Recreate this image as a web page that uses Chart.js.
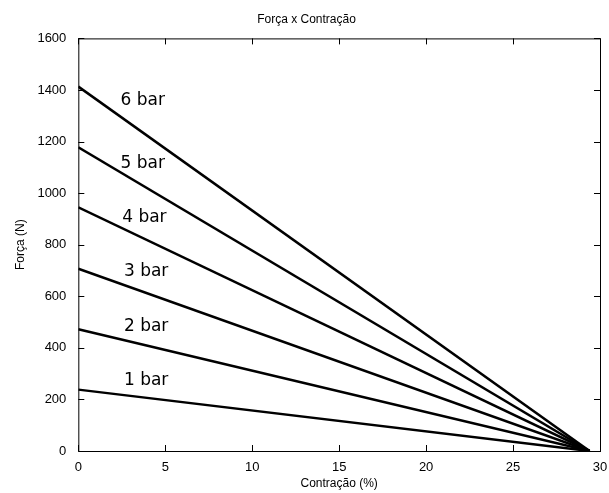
<!DOCTYPE html>
<html>
<head>
<meta charset="utf-8">
<script src="https://cdn.jsdelivr.net/npm/chart.js@4/dist/chart.umd.min.js"></script>
<style>
  html, body { margin: 0; padding: 0; background: #fff; }
  #wrap { width: 609px; height: 493px; }
</style>
</head>
<body>
<div id="wrap"><canvas id="forceChart" width="609" height="493"></canvas></div>
<script>
// Força x Contração - pressure curves
const pressures = ['1 bar', '2 bar', '3 bar', '4 bar', '5 bar', '6 bar'];
const startForce = [238, 472, 707, 945, 1178, 1413];  // force at 0 % contraction
const endContraction = [29.4, 29.4, 29.4, 29.4, 29.4, 29.4]; // force drops to 0 here
const labelX = [3.9, 3.9, 3.9, 3.8, 3.7, 3.7];
const labelY = [272, 482, 695, 905, 1115, 1359];
const xTicks = [0, 5, 10, 15, 20, 25, 30];
const yTicks = [0, 200, 400, 600, 800, 1000, 1200, 1400, 1600];

const datasets = pressures.map((p, i) => ({
  label: p,
  data: [{ x: 0, y: startForce[i] }, { x: endContraction[i], y: 0 }],
  borderColor: '#000',
  borderWidth: 2.5,
  pointRadius: 0,
  fill: false,
  tension: 0
}));

// box, inward ticks and line labels
const matlabLook = {
  id: 'matlabLook',
  afterDatasetsDraw(chart) {
    const { ctx, chartArea: a, scales } = chart;
    ctx.save();
    ctx.strokeStyle = '#000';
    ctx.lineWidth = 1;
    ctx.strokeRect(a.left + 0.5, a.top + 0.5, a.right - a.left, a.bottom - a.top);
    ctx.beginPath();
    xTicks.forEach(v => {
      const px = Math.round(scales.x.getPixelForValue(v)) + 0.5;
      ctx.moveTo(px, a.bottom); ctx.lineTo(px, a.bottom - 6);
      ctx.moveTo(px, a.top); ctx.lineTo(px, a.top + 6);
    });
    yTicks.forEach(v => {
      const py = Math.round(scales.y.getPixelForValue(v)) + 0.5;
      ctx.moveTo(a.left, py); ctx.lineTo(a.left + 6, py);
      ctx.moveTo(a.right, py); ctx.lineTo(a.right - 6, py);
    });
    ctx.stroke();

    ctx.fillStyle = '#000';
    ctx.font = '17px "DejaVu Sans"';
    ctx.textAlign = 'center';
    ctx.textBaseline = 'middle';
    pressures.forEach((p, i) => {
      ctx.fillText(p, scales.x.getPixelForValue(labelX[i]), scales.y.getPixelForValue(labelY[i]));
    });
    ctx.restore();
  }
};

const tickFont = { family: 'Liberation Sans', size: 13 };

new Chart(document.getElementById('forceChart'), {
  type: 'line',
  data: { datasets },
  options: {
    responsive: false,
    animation: false,
    layout: { padding: { top: 6, right: 9, left: 13, bottom: 2 } },
    plugins: {
      legend: { display: false },
      tooltip: { enabled: false },
      title: {
        display: true,
        text: 'Força x Contração',
        color: '#000',
        font: { family: 'Liberation Sans', size: 12, weight: 'normal' },
        padding: { top: 6, bottom: 12 }
      }
    },
    scales: {
      x: {
        type: 'linear',
        min: 0,
        max: 30,
        afterBuildTicks: s => { s.ticks = xTicks.map(v => ({ value: v })); },
        ticks: { color: '#000', font: tickFont, padding: 1, maxRotation: 0, callback: v => String(v) },
        grid: { display: false },
        border: { display: false },
        title: { display: true, text: 'Contração (%)', color: '#000', font: { family: 'Liberation Sans', size: 12 }, padding: { top: 0, bottom: 0 } }
      },
      y: {
        type: 'linear',
        min: 0,
        max: 1600,
        afterBuildTicks: s => { s.ticks = yTicks.map(v => ({ value: v })); },
        ticks: { color: '#000', font: tickFont, padding: 4, callback: v => String(v) },
        grid: { display: false },
        border: { display: false },
        title: { display: true, text: 'Força (N)', color: '#000', font: { family: 'Liberation Sans', size: 12 }, padding: { top: 0, bottom: 6 } }
      }
    }
  },
  plugins: [matlabLook]
});
</script>
</body>
</html>
